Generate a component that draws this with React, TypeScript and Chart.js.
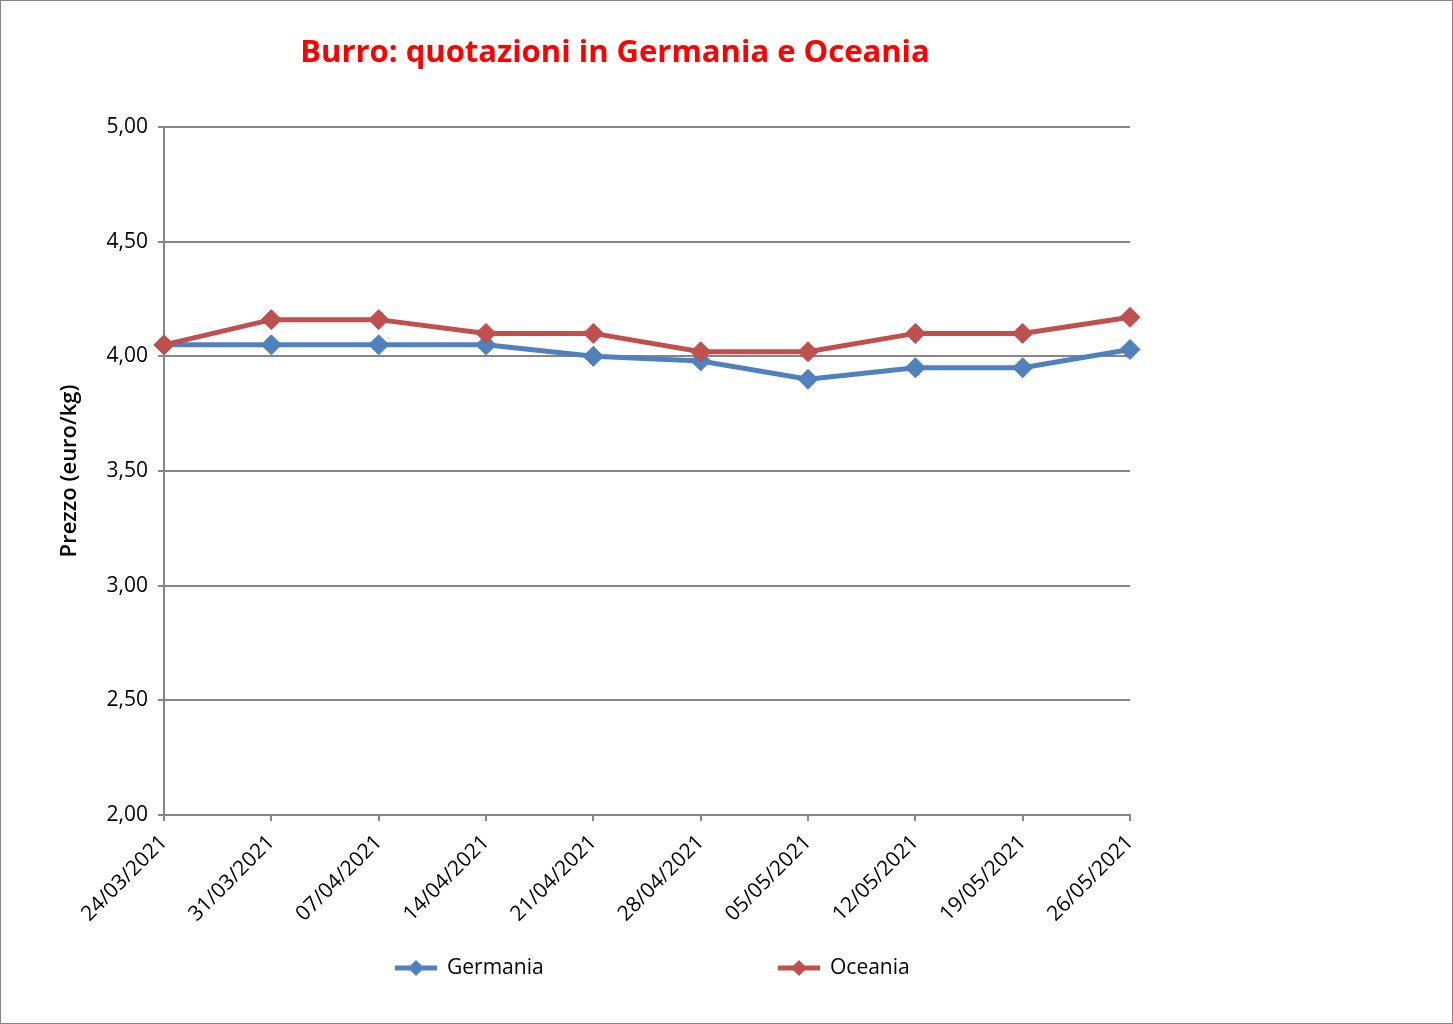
import React, { useEffect, useRef } from 'react';
import { Chart, registerables } from 'chart.js';

Chart.register(...registerables);

const categories = [
  '24/03/2021', '31/03/2021', '07/04/2021', '14/04/2021', '21/04/2021',
  '28/04/2021', '05/05/2021', '12/05/2021', '19/05/2021', '26/05/2021',
];
const germania = [4.05, 4.05, 4.05, 4.05, 4.0, 3.98, 3.9, 3.95, 3.95, 4.03];
const oceania = [4.05, 4.16, 4.16, 4.1, 4.1, 4.02, 4.02, 4.1, 4.1, 4.17];
const seriesNames = ['Germania', 'Oceania'];
const seriesColors = ['#4F81BD', '#C0504D'];
const yMin = 2;
const yMax = 5;
const yStep = 0.5;
const chartTitle = 'Burro: quotazioni in Germania e Oceania';
const yAxisTitle = 'Prezzo (euro/kg)';

const FONT = '"Open Sans", "Noto Sans", sans-serif';
const W = 1453;
const H = 1024;
const GRID = '#868686';

const decorPlugin = {
  id: 'decor',
  beforeDraw(chart: any) {
    const ctx = chart.ctx;
    ctx.save();
    ctx.fillStyle = '#ffffff';
    ctx.fillRect(0, 0, W, H);
    ctx.strokeStyle = GRID;
    ctx.lineWidth = 1;
    ctx.strokeRect(0.5, 0.5, W - 1, H - 1);
    ctx.restore();
  },
  afterDraw(chart: any) {
    const ctx = chart.ctx;
    ctx.save();
    // title
    ctx.fillStyle = '#FF0000';
    ctx.font = `bold 31px ${FONT}`;
    ctx.textAlign = 'center';
    ctx.textBaseline = 'middle';
    ctx.fillText(chartTitle, 615, 53);
    // y axis title
    ctx.save();
    ctx.translate(70, 471);
    ctx.rotate(-Math.PI / 2);
    ctx.fillStyle = '#000000';
    ctx.font = `600 22px ${FONT}`;
    ctx.fillText(yAxisTitle, 0, 0);
    ctx.restore();
    // legend
    const items = [
      { x: 395, name: seriesNames[0], color: seriesColors[0] },
      { x: 778, name: seriesNames[1], color: seriesColors[1] },
    ];
    const ly = 968;
    items.forEach((it) => {
      ctx.strokeStyle = it.color;
      ctx.lineWidth = 5;
      ctx.beginPath();
      ctx.moveTo(it.x, ly);
      ctx.lineTo(it.x + 42, ly);
      ctx.stroke();
      const cx = it.x + 21;
      const r = 8;
      ctx.fillStyle = it.color;
      ctx.beginPath();
      ctx.moveTo(cx - r, ly);
      ctx.lineTo(cx, ly - r);
      ctx.lineTo(cx + r, ly);
      ctx.lineTo(cx, ly + r);
      ctx.closePath();
      ctx.fill();
      ctx.fillStyle = '#000000';
      ctx.font = `21px ${FONT}`;
      ctx.textAlign = 'left';
      ctx.textBaseline = 'middle';
      ctx.fillText(it.name, it.x + 52, ly);
    });
    ctx.restore();
  },
};

export default function App() {
  const ref = useRef<HTMLCanvasElement | null>(null);
  useEffect(() => {
    if (!ref.current) return;
    const chart = new Chart(ref.current, {
      type: 'line',
      data: {
        labels: categories,
        datasets: [
          {
            label: seriesNames[0],
            data: germania,
            borderColor: seriesColors[0],
            backgroundColor: seriesColors[0],
            borderWidth: 5,
            pointStyle: 'rectRot',
            pointRadius: 10,
            pointBorderWidth: 1,
            tension: 0,
            order: 1,
          },
          {
            label: seriesNames[1],
            data: oceania,
            borderColor: seriesColors[1],
            backgroundColor: seriesColors[1],
            borderWidth: 5,
            pointStyle: 'rectRot',
            pointRadius: 10,
            pointBorderWidth: 1,
            tension: 0,
            order: 0,
          },
        ],
      },
      options: {
        responsive: false,
        animation: false,
        devicePixelRatio: 1,
        layout: { padding: { left: 0, top: 127, right: 323, bottom: 0 } },
        plugins: {
          legend: { display: false },
          tooltip: { enabled: false },
          title: { display: false },
        },
        scales: {
          x: {
            offset: false,
            grid: {
              drawOnChartArea: false,
              drawTicks: true,
              tickLength: 6,
              color: GRID,
              lineWidth: 2,
            },
            border: { display: true, color: GRID, width: 2 },
            ticks: {
              autoSkip: false,
              minRotation: 45,
              maxRotation: 45,
              padding: 9,
              color: '#000000',
              font: { family: FONT, size: 21 },
            },
            afterFit: (s: any) => {
              s.height = 1024 - 815;
            },
          },
          y: {
            min: yMin,
            max: yMax,
            grid: {
              color: GRID,
              drawTicks: true,
              tickLength: 6,
              lineWidth: 2,
            },
            border: { display: true, color: GRID, width: 2 },
            ticks: {
              stepSize: yStep,
              padding: 10,
              color: '#000000',
              font: { family: FONT, size: 21 },
              callback: (v: any) => Number(v).toFixed(2).replace('.', ','),
            },
            afterFit: (s: any) => {
              s.width = 164;
            },
          },
        },
      },
      plugins: [decorPlugin],
    });
    return () => chart.destroy();
  }, []);
  return (
    <div style={{ position: 'fixed', left: 0, top: 0, width: W, height: H, background: '#fff' }}>
      <canvas ref={ref} width={W} height={H} style={{ display: 'block', width: W, height: H }} />
    </div>
  );
}
